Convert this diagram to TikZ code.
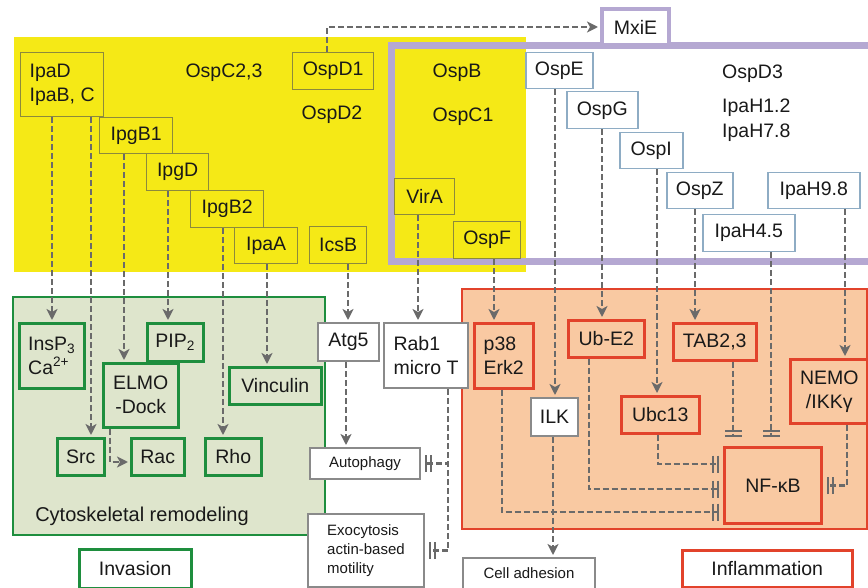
\documentclass[tikz,border=0pt]{standalone}
\usepackage{fontspec}
\setmainfont{Liberation Sans}
\usetikzlibrary{arrows.meta}
\definecolor{yel}{HTML}{F5E916}
\definecolor{yborder}{HTML}{8C8A3C}
\definecolor{purp}{HTML}{B5A8D2}
\definecolor{bborder}{HTML}{8EACC4}
\definecolor{gborder}{HTML}{1E8E3E}
\definecolor{gfill}{HTML}{DEE5CC}
\definecolor{ofill}{HTML}{F9C9A2}
\definecolor{rborder}{HTML}{E2432B}
\definecolor{wborder}{HTML}{8A8A8A}
\definecolor{lgray}{HTML}{6A6A6A}
\begin{document}
\begin{tikzpicture}[x=1pt,y=-1pt,
  every node/.style={font=\fontsize{19.5}{24}\selectfont, inner sep=0pt, text=black!90},
  bx/.style={anchor=north west, draw},
  ybox/.style={bx, draw=yborder, line width=1.3pt},
  bbox/.style={bx, draw=bborder, fill=white, line width=1.5pt},
  gbox/.style={bx, draw=gborder, line width=2.5pt},
  rbox/.style={bx, draw=rborder, line width=2.5pt},
  wbox/.style={bx, draw=wborder, fill=white, line width=2pt},
  small/.style={font=\fontsize{15}{19}\selectfont},
  dl/.style={draw=lgray, line width=2.4pt, dash pattern=on 6pt off 3pt},
  arr/.style={dl, -{Stealth[length=11pt,width=11pt,inset=3pt]}, shorten >=2pt},
  inh/.style={dl, -{Bar[width=17pt,line width=2.2pt,sep=3pt]Bar[width=17pt,line width=2.2pt]}, shorten >=4pt}
]
\useasboundingbox (0,0) rectangle (868,588);
% regions
\fill[yel] (14,37) rectangle (526,272);
\draw[purp, line width=7pt, line join=miter] (890,46) -- (391,46) -- (391,262) -- (890,262);
\filldraw[fill=gfill, draw=gborder, line width=2.5pt] (13,297) rectangle (325,535);
\filldraw[fill=ofill, draw=rborder, line width=2.5pt] (462,289) rectangle (867,529);

% yellow boxes
\node[ybox, minimum width=83pt, minimum height=64pt, align=left] (ipad) at (20,52) {IpaD\\IpaB, C};
\node[ybox, minimum width=81pt, minimum height=37pt] (ospd1) at (292,52) {OspD1};
\node[ybox, minimum width=73pt, minimum height=36pt] (ipgb1) at (99,117) {IpgB1};
\node[ybox, minimum width=62pt, minimum height=37pt] (ipgd) at (146,153) {IpgD};
\node[ybox, minimum width=73pt, minimum height=37pt] (ipgb2) at (190,190) {IpgB2};
\node[ybox, minimum width=63pt, minimum height=36pt] (ipaa) at (234,227) {IpaA};
\node[ybox, minimum width=57pt, minimum height=37pt] (icsb) at (309,226) {IcsB};
\node[ybox, minimum width=60pt, minimum height=36pt] (vira) at (394,178) {VirA};
\node[ybox, minimum width=67pt, minimum height=37pt] (ospf) at (453,221) {OspF};
\node (ospc23) at (224,73) {OspC2,3};
\node (ospd2) at (332,115) {OspD2};
\node (ospb) at (457,73) {OspB};
\node (ospc1) at (463,117) {OspC1};

% blue boxes
\node[bx, draw=purp, fill=white, line width=4pt, minimum width=67pt, minimum height=36pt] (mxie) at (600,7) {MxiE};
\node[bbox, minimum width=67pt, minimum height=36pt] (ospe) at (525,52) {OspE};
\node[bbox, minimum width=71pt, minimum height=37pt] (ospg) at (566,91) {OspG};
\node[bbox, minimum width=63pt, minimum height=36pt] (ospi) at (619,132) {OspI};
\node[bbox, minimum width=66pt, minimum height=36pt] (ospz) at (666,172) {OspZ};
\node[bbox, minimum width=92pt, minimum height=36pt] (ipah98) at (767,172) {IpaH9.8};
\node[bbox, minimum width=92pt, minimum height=37pt] (ipah45) at (702,214) {IpaH4.5};
\node[anchor=west] (ospd3) at (722,74) {OspD3};
\node[anchor=west] (ipah12) at (722,108) {IpaH1.2};
\node[anchor=west] (ipah78) at (722,133) {IpaH7.8};

% green boxes
\node[gbox, minimum width=65pt, minimum height=65pt, align=left] (insp) at (18,322) {InsP\textsubscript{3}\\Ca\textsuperscript{2+}};
\node[gbox, minimum width=56pt, minimum height=38pt] (pip) at (146,322) {PIP\textsubscript{2}};
\node[gbox, minimum width=75pt, minimum height=64pt, align=center] (elmo) at (102,362) {ELMO\\-Dock};
\node[gbox, minimum width=92pt, minimum height=37pt] (vinc) at (228,366) {Vinculin};
\node[gbox, minimum width=47pt, minimum height=37pt] (src) at (56,437) {Src};
\node[gbox, minimum width=53pt, minimum height=37pt] (rac) at (130,437) {Rac};
\node[gbox, minimum width=56pt, minimum height=37pt] (rho) at (204,437) {Rho};
\node[font=\fontsize{20}{24}\selectfont] (cyto) at (142,516) {Cytoskeletal remodeling};
\node[gbox, fill=white, minimum width=112pt, minimum height=39pt] (invasion) at (78,548) {Invasion};

% gray/white boxes
\node[wbox, minimum width=61pt, minimum height=38pt] (atg5) at (317,322) {Atg5};
\node[wbox, minimum width=84pt, minimum height=65pt, align=left] (rab1) at (383,322) {Rab1\\micro T};
\node[wbox, small, minimum width=110pt, minimum height=31pt] (autoph) at (309,447) {Autophagy};
\node[wbox, small, minimum width=116pt, minimum height=73pt, align=left] (exo) at (307,513) {Exocytosis\\actin-based\\motility};
\node[wbox, minimum width=47pt, minimum height=38pt] (ilk) at (530,397) {ILK};
\node[wbox, small, minimum width=132pt, minimum height=31pt] (celladh) at (462,557) {Cell adhesion};

% red boxes
\node[rbox, minimum width=59pt, minimum height=65pt, align=left] (p38) at (473,322) {p38\\Erk2};
\node[rbox, minimum width=76pt, minimum height=37pt] (ube2) at (567,319) {Ub-E2};
\node[rbox, minimum width=78pt, minimum height=37pt] (ubc13) at (620,395) {Ubc13};
\node[rbox, minimum width=83pt, minimum height=37pt] (tab) at (672,322) {TAB2,3};
\node[rbox, minimum width=78pt, minimum height=64pt, align=center] (nemo) at (789,358) {NEMO\\/IKKγ};
\node[rbox, line width=3pt, minimum width=97pt, minimum height=76pt] (nfkb) at (723,446) {NF-κB};
\node[rbox, fill=white, minimum width=170pt, minimum height=37pt] (inflam) at (681,549) {Inflammation};

% connectors
\draw[arr] (ospd1.north -| 327,0) |- (mxie.west);
\draw[arr] (ipad.south -| 52,0) -- (insp.north -| 52,0);
\draw[arr] (ipad.south -| 91,0) -- (src.north -| 91,0);
\draw[arr] (ipgb1.south -| 124,0) -- (elmo.north -| 124,0);
\draw[arr] (ipgd.south -| 168,0) -- (pip.north -| 168,0);
\draw[arr] (ipgb2.south -| 223,0) -- (rho.north -| 223,0);
\draw[arr] (ipaa.south -| 267,0) -- (vinc.north -| 267,0);
\draw[arr] (elmo.south -| 110,0) |- (rac.west |- 0,462);
\draw[arr] (icsb.south -| 348,0) -- (atg5.north -| 348,0);
\draw[arr] (atg5.south -| 346,0) -- (autoph.north -| 346,0);
\draw[arr] (vira.south -| 418,0) -- (rab1.north -| 418,0);
\draw[inh] (rab1.south -| 448,0) |- (autoph.east);
\draw[inh] (rab1.south -| 448,0) |- (exo.east);
\draw[arr] (ospf.south -| 494,0) -- (p38.north -| 494,0);
\draw[arr] (ospe.south -| 555,0) -- (ilk.north -| 555,0);
\draw[arr] (ilk.south -| 553,0) -- (celladh.north -| 553,0);
\draw[arr] (ospg.south -| 602,0) -- (ube2.north -| 602,0);
\draw[arr] (ospi.south -| 657,0) -- (ubc13.north -| 657,0);
\draw[arr] (ospz.south -| 695,0) -- (tab.north -| 695,0);
\draw[arr] (ipah98.south -| 845,0) -- (nemo.north -| 845,0);
\draw[inh] (p38.south -| 502,0) |- (nfkb.west |- 0,512);
\draw[inh] (ube2.south -| 589,0) |- (nfkb.west |- 0,489);
\draw[inh] (ubc13.south -| 658,0) |- (nfkb.west |- 0,464);
\draw[inh, shorten >=9pt] (tab.south -| 733,0) -- (nfkb.north -| 733,0);
\draw[inh, shorten >=9pt] (ipah45.south -| 771,0) -- (nfkb.north -| 771,0);
\draw[inh] (nemo.south -| 847,0) |- (nfkb.east);
\end{tikzpicture}
\end{document}
